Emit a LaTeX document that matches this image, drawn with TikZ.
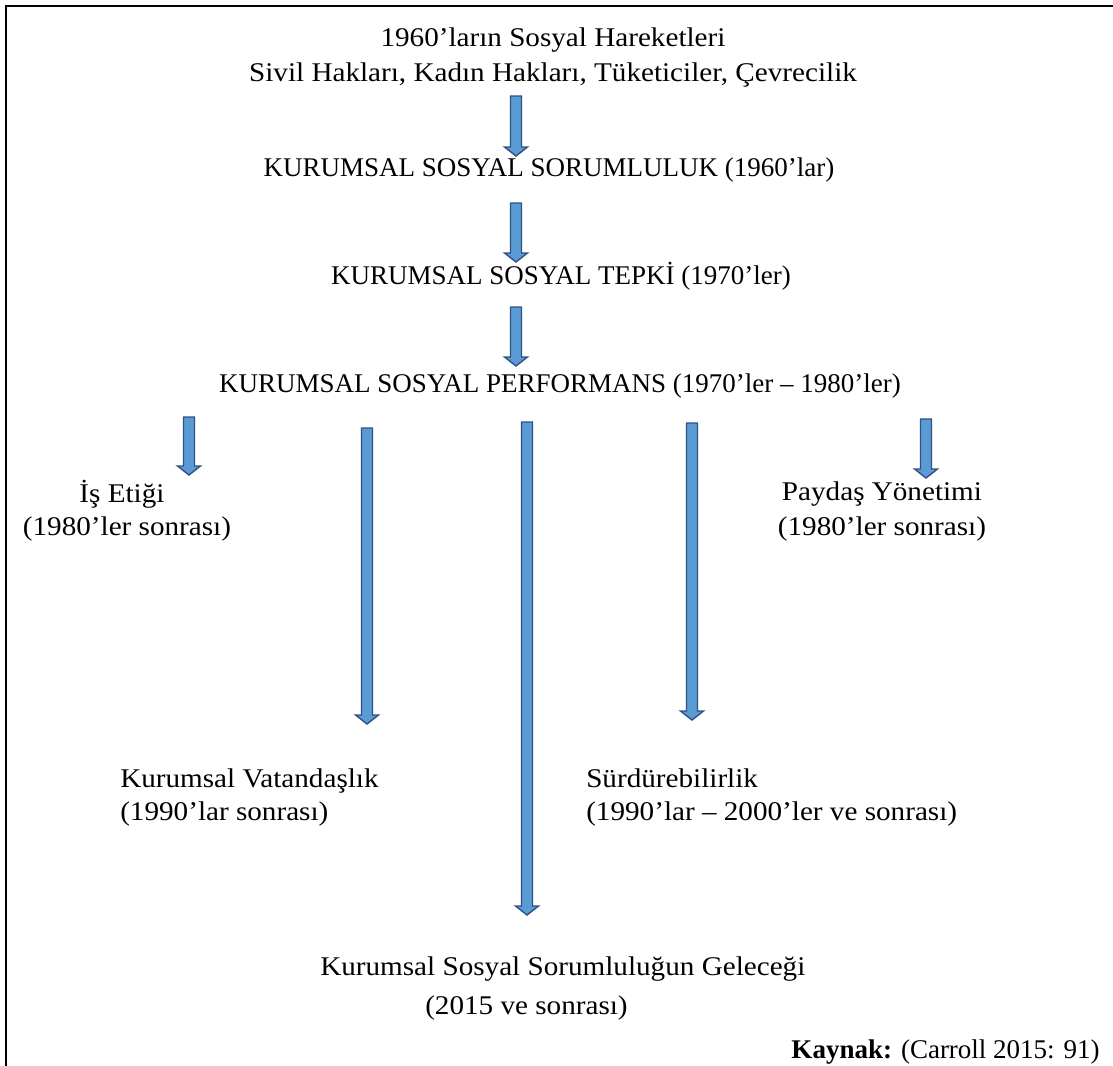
\documentclass[tikz,border=0pt]{standalone}
\usepackage{fontspec}
\setmainfont{Liberation Serif}
\newfontfamily\widefont[FakeStretch=1.08]{Liberation Serif}
\usetikzlibrary{calc}
\definecolor{arrowfill}{RGB}{91,155,213}
\definecolor{arrowline}{RGB}{47,82,130}
\tikzset{
	lbl/.style={font=\fontsize{19.2}{24.8}\selectfont, inner sep=0pt, anchor=base},
	txt/.style={lbl, font=\widefont\fontsize{19.2}{24.8}\selectfont},
	barrow/.style={fill=arrowfill, draw=arrowline, line width=1pt, line join=miter},
}
\newcommand{\blockarrow}[2]{%
	\draw[barrow] ($(#1)+(-5.5,0)$) -- ($(#2)+(-5.5,-9)$) -- ($(#2)+(-11.5,-9)$) -- (#2)
		-- ($(#2)+(11.5,-9)$) -- ($(#2)+(5.5,-9)$) -- ($(#1)+(5.5,0)$) -- cycle;}

\begin{document}
\begin{tikzpicture}[x=0.025cm,y=-0.025cm]
		\useasboundingbox (0,0) rectangle (1113,1066);
		\draw[line width=1.4pt] (1113,6) -- (6,6) -- (6,1066);

		\node[txt] (title) at (553,46) {1960’ların Sosyal Hareketleri};
		\node[txt] (movements) at (553,81) {Sivil Hakları, Kadın Hakları, Tüketiciler, Çevrecilik};
		\node[lbl] (kss) at (549,176) {KURUMSAL SOSYAL SORUMLULUK (1960’lar)};
		\node[lbl] (kst) at (561,284) {KURUMSAL SOSYAL TEPKİ (1970’ler)};
		\node[lbl] (ksp) at (560,392) {KURUMSAL SOSYAL PERFORMANS (1970’ler – 1980’ler)};

		\node[txt] (ethics) at (122,502) {İş Etiği};
		\node[txt] (ethicsyear) at (127,535) {(1980’ler sonrası)};
		\node[txt] (stake) at (882,500) {Paydaş Yönetimi};
		\node[txt] (stakeyear) at (882,535) {(1980’ler sonrası)};
		\node[txt, anchor=base west] (citizen) at (120,787) {Kurumsal Vatandaşlık};
		\node[txt, anchor=base west] (citizenyear) at (120,820) {(1990’lar sonrası)};
		\node[txt, anchor=base west] (sustain) at (586,787) {Sürdürebilirlik};
		\node[txt, anchor=base west] (sustainyear) at (586,820) {(1990’lar – 2000’ler ve sonrası)};
		\node[txt, anchor=base west] (future) at (320,975) {Kurumsal Sosyal Sorumluluğun Geleceği};
		\node[txt, anchor=base west] (futureyear) at (425,1014) {(2015 ve sonrası)};
		\node[lbl, anchor=base east] (source) at (1100,1058) {\textbf{Kaynak:} (Carroll 2015: 91)};

		\coordinate (a1s) at (516,96);   \coordinate (a1e) at (516,156);
		\coordinate (a2s) at (516,203);  \coordinate (a2e) at (516,262);
		\coordinate (a3s) at (516,307);  \coordinate (a3e) at (516,366);
		\coordinate (a4s) at (189,417);  \coordinate (a4e) at (189,475);
		\coordinate (a5s) at (367,428);  \coordinate (a5e) at (367,724);
		\coordinate (a6s) at (527,422);  \coordinate (a6e) at (527,915);
		\coordinate (a7s) at (692,423);  \coordinate (a7e) at (692,720);
		\coordinate (a8s) at (926,419);  \coordinate (a8e) at (926,478);

		\blockarrow{a1s}{a1e}
		\blockarrow{a2s}{a2e}
		\blockarrow{a3s}{a3e}
		\blockarrow{a4s}{a4e}
		\blockarrow{a5s}{a5e}
		\blockarrow{a6s}{a6e}
		\blockarrow{a7s}{a7e}
		\blockarrow{a8s}{a8e}
	\end{tikzpicture}
\end{document}
